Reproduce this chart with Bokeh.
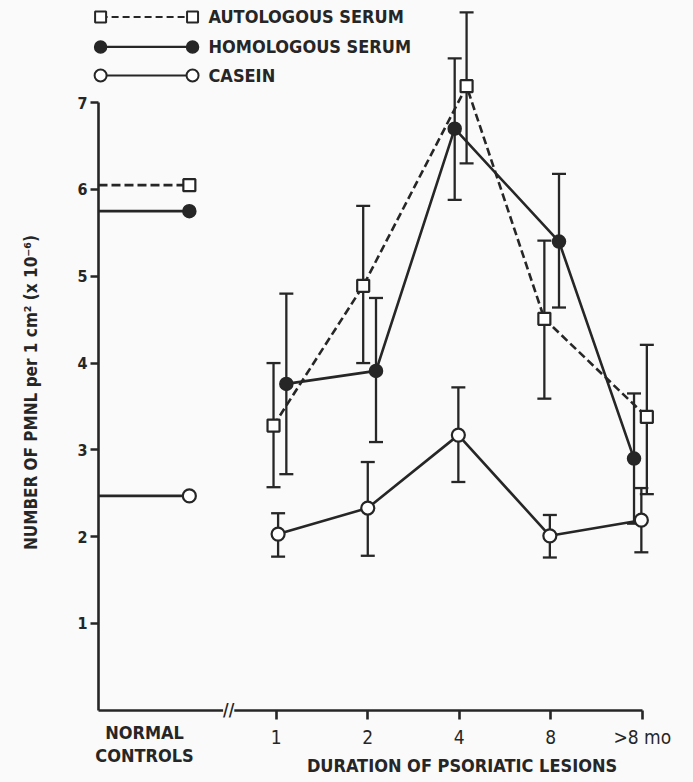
import numpy as np
from bokeh.plotting import figure
from bokeh.models import Range1d, FixedTicker, Label, Whisker, TeeHead, ColumnDataSource
from bokeh.core.properties import value
from bokeh.embed import file_html
from bokeh.resources import INLINE

# ---------------- data ----------------
CATEGORIES = ["1", "2", "4", "8", ">8 mo"]
SERIES = ["AUTOLOGOUS SERUM", "HOMOLOGOUS SERUM", "CASEIN"]
NORMAL_TEXT = ["NORMAL", "CONTROLS"]
X_TITLE = "DURATION OF PSORIATIC LESIONS"
Y_TITLE = "NUMBER OF PMNL per 1 cm\u00b2 (x 10\u207b\u2076)"
Y_TICKS = [1, 2, 3, 4, 5, 6, 7]

NORMAL_AUTO = 6.05
NORMAL_HOMO = 5.75
NORMAL_CASEIN = 2.47

AUTO_MEAN = [3.28, 4.89, 7.19, 4.51, 3.38]
AUTO_UPPER = [4.00, 5.81, 8.04, 5.41, 4.21]
AUTO_LOWER = [2.57, 4.00, 6.30, 3.59, 2.49]

HOMO_MEAN = [3.76, 3.91, 6.70, 5.40, 2.90]
HOMO_UPPER = [4.80, 4.75, 7.51, 6.18, 3.65]
HOMO_LOWER = [2.72, 3.09, 5.88, 4.64, 2.15]

CASEIN_MEAN = [2.03, 2.33, 3.17, 2.01, 2.19]
CASEIN_UPPER = [2.27, 2.86, 3.72, 2.25, 2.56]
CASEIN_LOWER = [1.77, 1.78, 2.63, 1.76, 1.82]

# ---------------- layout / style ----------------
AUTO_DODGE = [-0.03, -0.05, 0.08, -0.07, 0.05]
HOMO_DODGE = [0.11, 0.09, -0.05, 0.09, -0.09]
CASEIN_DODGE = [0.02, 0.0, -0.01, -0.01, -0.01]
NORMAL_X = 0.05
AXIS_X = -0.943          # where the y axis stands
INK = "#262626"
BG = "#fafafa"
FONT = "DejaVu Sans Condensed"
LW = 2.6

cat_x = np.arange(1, len(CATEGORIES) + 1)

p = figure(width=693, height=782, output_backend="svg", toolbar_location=None,
           x_range=Range1d(-2.014, 5.560), y_range=Range1d(-0.832, 8.177),
           min_border_left=0, min_border_right=0, min_border_top=0, min_border_bottom=0,
           background_fill_color=BG, border_fill_color=BG)
p.outline_line_color = None
p.grid.visible = False

# y axis
yax = p.yaxis[0]
yax.fixed_location = AXIS_X
yax.ticker = FixedTicker(ticks=Y_TICKS)
yax.bounds = (0, 7)
yax.axis_line_width = LW
yax.axis_line_color = INK
yax.major_tick_in = 0
yax.major_tick_out = 8
yax.major_tick_line_width = LW
yax.major_tick_line_color = INK
yax.minor_tick_line_color = None
yax.major_label_text_font = FONT
yax.major_label_text_font_size = "16px"
yax.major_label_text_font_style = "bold"
yax.major_label_text_color = INK
yax.major_label_standoff = 3

# x axis
xax = p.xaxis[0]
xax.fixed_location = 0
xax.ticker = FixedTicker(ticks=list(cat_x))
xax.major_label_overrides = {int(i): c for i, c in zip(cat_x, CATEGORIES)}
xax.bounds = (AXIS_X, 5)
xax.axis_line_width = LW
xax.axis_line_color = INK
xax.major_tick_in = 0
xax.major_tick_out = 9
xax.major_tick_line_width = LW
xax.major_tick_line_color = INK
xax.minor_tick_line_color = None
xax.major_label_text_font = FONT
xax.major_label_text_font_size = "19px"
xax.major_label_text_color = INK
xax.major_label_standoff = 7

# axis break
p.add_layout(Label(x=0.48, y=0, text="//", text_font=FONT, text_font_size="17px",
                   text_font_style="bold", text_color=INK, text_align="center",
                   text_baseline="middle", background_fill_color=BG))

# normal controls
p.segment(x0=[AXIS_X], y0=[NORMAL_AUTO], x1=[NORMAL_X], y1=[NORMAL_AUTO],
          line_color=INK, line_width=LW, line_dash="9 4")
p.segment(x0=[AXIS_X, AXIS_X], y0=[NORMAL_HOMO, NORMAL_CASEIN], x1=[NORMAL_X, NORMAL_X],
          y1=[NORMAL_HOMO, NORMAL_CASEIN], line_color=INK, line_width=LW)


def series(mean, upper, lower, dodge, dash):
    xs = cat_x + np.array(dodge)
    src = ColumnDataSource(dict(x=xs, y=mean, upper=upper, lower=lower))
    p.add_layout(Whisker(source=src, base="x", upper="upper", lower="lower",
                         line_color=INK, line_width=2.3,
                         upper_head=TeeHead(size=14, line_color=INK, line_width=2.3),
                         lower_head=TeeHead(size=14, line_color=INK, line_width=2.3)))
    p.line("x", "y", source=src, line_color=INK, line_width=LW, line_dash=dash)
    return src


s_auto = series(AUTO_MEAN, AUTO_UPPER, AUTO_LOWER, AUTO_DODGE, "8 4")
s_homo = series(HOMO_MEAN, HOMO_UPPER, HOMO_LOWER, HOMO_DODGE, "solid")
s_cas = series(CASEIN_MEAN, CASEIN_UPPER, CASEIN_LOWER, CASEIN_DODGE, "solid")

p.scatter("x", "y", source=s_auto, marker="square", size=12, fill_color="white",
          line_color=INK, line_width=2.2)
p.scatter("x", "y", source=s_homo, marker="circle", size=13, fill_color=INK,
          line_color=INK, line_width=1.5)
p.scatter("x", "y", source=s_cas, marker="circle", size=13, fill_color="white",
          line_color=INK, line_width=2.2)
p.scatter([NORMAL_X], [NORMAL_AUTO], marker="square", size=12, fill_color="white",
          line_color=INK, line_width=2.2)
p.scatter([NORMAL_X], [NORMAL_HOMO], marker="circle", size=13, fill_color=INK,
          line_color=INK, line_width=1.5)
p.scatter([NORMAL_X], [NORMAL_CASEIN], marker="circle", size=13, fill_color="white",
          line_color=INK, line_width=2.2)

# legend (hand-drawn, as in the original)
LEG_Y = [7.987, 7.642, 7.313]
LEG_X0, LEG_X1, LEG_TX = -0.920, 0.085, 0.259
p.segment(x0=[LEG_X0], y0=[LEG_Y[0]], x1=[LEG_X1], y1=[LEG_Y[0]], line_color=INK,
          line_width=2.2, line_dash="7 4")
p.segment(x0=[LEG_X0] * 2, y0=LEG_Y[1:], x1=[LEG_X1] * 2, y1=LEG_Y[1:], line_color=INK,
          line_width=2.2)
p.scatter([LEG_X0, LEG_X1], [LEG_Y[0]] * 2, marker="square", size=11, fill_color="white",
          line_color=INK, line_width=2)
p.scatter([LEG_X0, LEG_X1], [LEG_Y[1]] * 2, marker="circle", size=12, fill_color=INK,
          line_color=INK, line_width=1.5)
p.scatter([LEG_X0, LEG_X1], [LEG_Y[2]] * 2, marker="circle", size=12, fill_color="white",
          line_color=INK, line_width=2)
p.text(x=[LEG_TX] * 3, y=LEG_Y, text=SERIES, text_font=value(FONT),
       text_font_size=value("18px"), text_font_style="bold", text_color=INK,
       text_baseline="middle", text_align="left")

# titles
p.add_layout(Label(x=-0.44, y=-0.256, text=NORMAL_TEXT[0], text_font=FONT,
                   text_font_size="18px", text_font_style="bold", text_color=INK,
                   text_align="center", text_baseline="middle"))
p.add_layout(Label(x=-0.44, y=-0.521, text=NORMAL_TEXT[1], text_font=FONT,
                   text_font_size="18px", text_font_style="bold", text_color=INK,
                   text_align="center", text_baseline="middle"))
p.add_layout(Label(x=3.03, y=-0.636, text=X_TITLE, text_font=FONT,
                   text_font_size="18px", text_font_style="bold", text_color=INK,
                   text_align="center", text_baseline="middle"))
p.add_layout(Label(x=-1.686, y=3.661, text=Y_TITLE, text_font=FONT,
                   text_font_size="17px", text_font_style="bold", text_color=INK,
                   text_align="center", text_baseline="middle", angle=np.pi / 2))

html = file_html(p, INLINE)
html = html.replace("<head>", "<head><style>body{background:%s}</style>" % BG, 1)
open("out.html", "w").write(html)
